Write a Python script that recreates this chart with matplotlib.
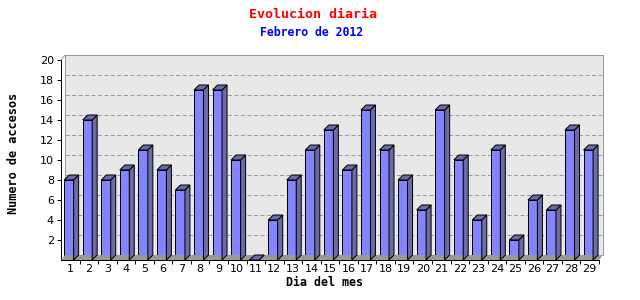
import matplotlib
matplotlib.use("Agg")
import matplotlib.pyplot as plt
from matplotlib.patches import Polygon, Rectangle
from matplotlib.transforms import ScaledTranslation, IdentityTransform
import numpy as np

days = [str(d) for d in range(1, 30)]
visits = [8, 14, 8, 9, 11, 9, 7, 17, 17, 10, 0, 4, 8, 11, 13, 9, 15, 11, 8, 5,
          15, 10, 4, 11, 2, 6, 5, 13, 11]
yticks = [2, 4, 6, 8, 10, 12, 14, 16, 18, 20]

title = "Evolucion diaria"
subtitle = "Febrero de 2012"
xlabel = "Dia del mes"
ylabel = "Numero de accesos"

W, H = 640, 300
fig = plt.figure(figsize=(W / 100, H / 100), dpi=100)
fig.patch.set_facecolor("white")

LW = 0.72  # 1 px

# front axes in pixel coords
L, R, T, B = 61, 599, 60, 260
ax = fig.add_axes([L / W, 1 - B / H, (R - L) / W, (B - T) / H])
ax.set_xlim(0.5, len(days) + 0.5)
ax.set_ylim(0, 20)
ax.patch.set_visible(False)
for s in ["top", "right"]:
    ax.spines[s].set_visible(False)
ax.spines["left"].set_color("black")
ax.spines["bottom"].set_color("black")
ax.spines["left"].set_linewidth(LW)
ax.spines["bottom"].set_linewidth(LW)

D = 5  # depth in pixels
DXW = 4  # wall x offset
off = ScaledTranslation(DXW / 100, D / 100, fig.dpi_scale_trans)

# back wall
wall = Rectangle((0, 0), 1, 1, transform=ax.transAxes + off,
                 facecolor="#e8e8e8", edgecolor="#999999", lw=LW,
                 zorder=0, clip_on=False)
ax.add_patch(wall)

def disp(x, y):
    return ax.transData.transform((x, y))

x0, x1 = ax.get_xlim()
# corner diagonal
c0 = disp(x0, 20)
fig.add_artist(plt.Line2D([c0[0], c0[0] + DXW], [c0[1], c0[1] + D],
                          transform=IdentityTransform(), color="#999999", lw=LW))

# floor strip
p0 = disp(x0, 0); p1 = disp(x1, 0)
floor = Polygon([p0, p1, p1 + [DXW, D], p0 + [DXW, D]], closed=True,
                transform=IdentityTransform(),
                facecolor="#999999", edgecolor="none", zorder=0.5)
fig.add_artist(floor)

# dashed grid on back wall
for v in yticks[:-1]:
    ax.plot([x0, x1], [v, v], transform=ax.transData + off, color="#999999",
            lw=LW, ls=(0, (4, 2.5)), zorder=0.6, clip_on=False)

# bars
front_c = "#8484ff"
side_c = "#6b6ba8"
bw = 0.51
for i, v in enumerate(visits):
    xc = i + 1
    xl = xc - 0.33
    xr = xl + bw
    ax.add_patch(Rectangle((xl, 0), bw, v, facecolor=front_c, edgecolor="black",
                           lw=LW, zorder=3, joinstyle="miter"))
    a = disp(xr, 0); b = disp(xr, v); c = disp(xl, v)
    side = Polygon([a, b, b + D, a + D], closed=True, transform=IdentityTransform(),
                   facecolor=side_c, edgecolor="black", lw=LW, zorder=2,
                   joinstyle="miter")
    top = Polygon([c, b, b + D, c + D], closed=True, transform=IdentityTransform(),
                  facecolor=side_c, edgecolor="black", lw=LW, zorder=2,
                  joinstyle="miter")
    fig.add_artist(side)
    fig.add_artist(top)

# ticks
ax.set_yticks(yticks)
ax.set_yticklabels([str(t) for t in yticks], fontsize=8, family="DejaVu Sans")
ax.tick_params(axis="y", direction="out", length=3, width=LW, pad=2)
ax.set_xticks(range(1, len(days) + 1))
ax.set_xticklabels(days, fontsize=8, family="DejaVu Sans")
ax.tick_params(axis="x", length=0, pad=3)
ax.set_xticks(np.arange(1.5, len(days) + 0.6, 1), minor=True)
ax.tick_params(axis="x", which="minor", direction="out", length=3, width=LW)

# titles
fig.text(313 / W, 1 - 14 / H, title, color="red", ha="center", va="center",
         fontsize=9.6, family="DejaVu Sans Mono", weight="bold")
fig.text(312 / W, 1 - 32 / H, subtitle, color="blue", ha="center", va="center",
         fontsize=8.3, family="DejaVu Sans Mono", weight="bold")
fig.text(324 / W, 1 - 282 / H, xlabel, color="black", ha="center", va="center",
         fontsize=8.4, family="DejaVu Sans Mono", weight="bold")
fig.text(14 / W, 1 - 153 / H, ylabel, color="black", ha="center", va="center",
         rotation=90, fontsize=8.6, family="DejaVu Sans Mono", weight="bold")

fig.savefig("out.png", dpi=100)
